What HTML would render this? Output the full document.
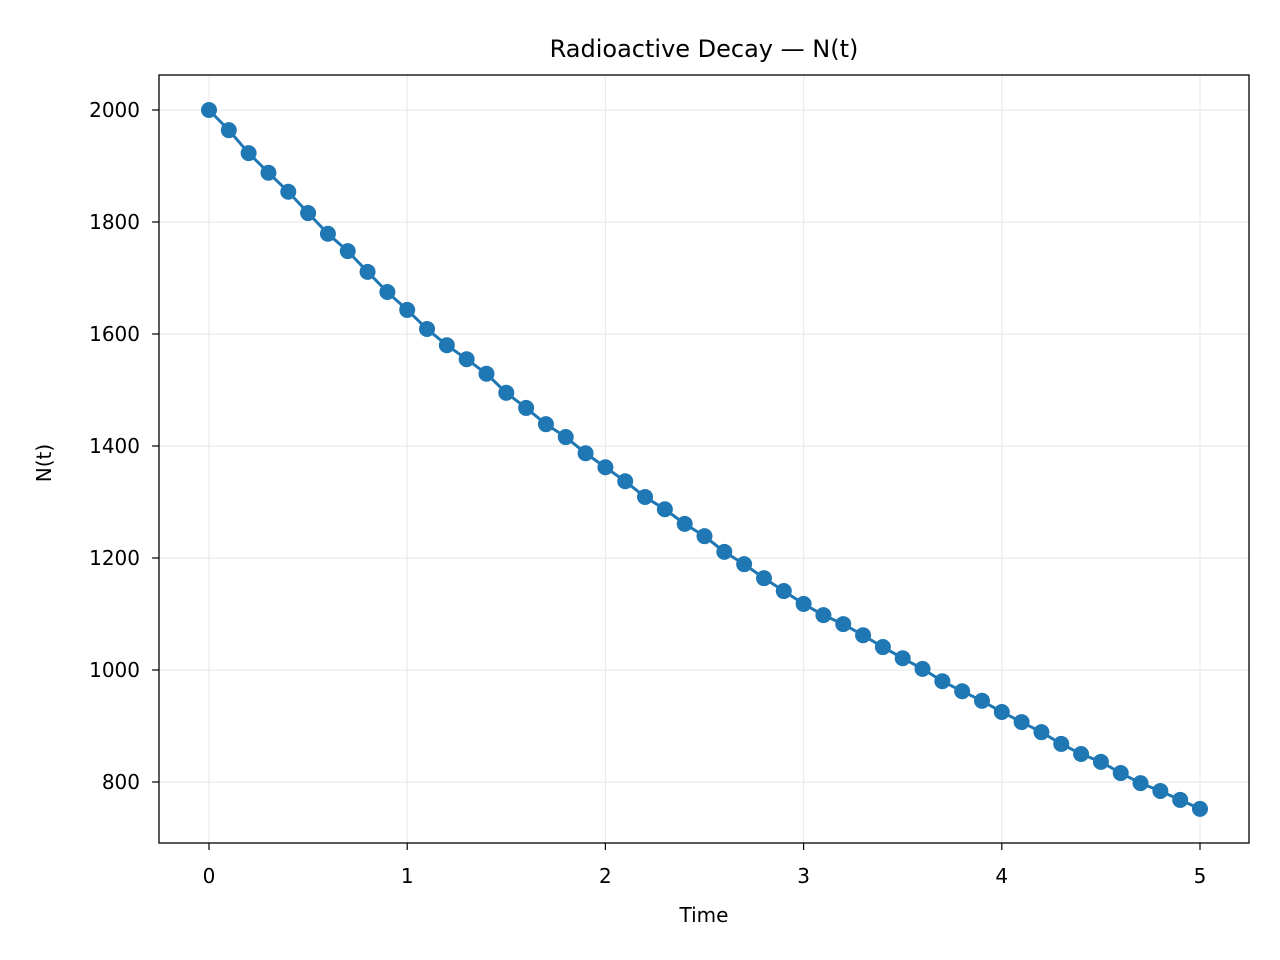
<!DOCTYPE html>
<html><head><meta charset="utf-8"><style>
html,body{margin:0;padding:0;background:#fff;}
svg{display:block;font-family:"DejaVu Sans","Liberation Sans",sans-serif;}
</style></head><body>
<svg id="chart" width="1280" height="960" viewBox="0 0 1280 960" xmlns="http://www.w3.org/2000/svg">
<rect width="1280" height="960" fill="#fff"/>
<g id="grid"></g>
<g id="series"></g>
<rect x="159" y="75" width="1090" height="768" fill="none" stroke="#000" stroke-width="1.3"/>
<g id="ticks" font-size="20" fill="#000"></g>
<text x="704" y="57" font-size="24" text-anchor="middle">Radioactive Decay — N(t)</text>
<text x="704" y="922" font-size="20" text-anchor="middle">Time</text>
<text transform="translate(51,463) rotate(-90)" font-size="20" text-anchor="middle">N(t)</text>
</svg>
<script>
const times = [0,0.1,0.2,0.3,0.4,0.5,0.6,0.7,0.8,0.9,1.0,1.1,1.2,1.3,1.4,1.5,1.6,1.7,1.8,1.9,2.0,2.1,2.2,2.3,2.4,2.5,2.6,2.7,2.8,2.9,3.0,3.1,3.2,3.3,3.4,3.5,3.6,3.7,3.8,3.9,4.0,4.1,4.2,4.3,4.4,4.5,4.6,4.7,4.8,4.9,5.0];
const counts = [2000,1964,1923,1888,1854,1816,1779,1748,1711,1675,1643,1609,1580,1555,1529,1495,1468,1439,1416,1387,1362,1337,1309,1287,1261,1239,1211,1189,1164,1141,1118,1098,1082,1062,1041,1021,1002,980,962,945,925,907,889,868,850,836,816,798,784,768,752];
const xTicks = [0,1,2,3,4,5];
const yTicks = [800,1000,1200,1400,1600,1800,2000];

const NS = "http://www.w3.org/2000/svg";
function xs(v){ return 209 + v * 198.2; }
function ys(v){ return 110 + (2000 - v) * 0.56; }
function mk(tag, attrs, parent){
  const e = document.createElementNS(NS, tag);
  for (const k in attrs) e.setAttribute(k, attrs[k]);
  parent.appendChild(e); return e;
}
const grid = document.getElementById('grid');
const ticks = document.getElementById('ticks');
const series = document.getElementById('series');

xTicks.forEach(t => {
  const x = xs(t);
  const g = mk('line', {x1:x, x2:x, y1:75, y2:843, stroke:'#ebebeb', 'stroke-width':1.2}, grid);
  
  
  const tk = mk('line', {x1:x, x2:x, y1:843, y2:850, stroke:'#000', 'stroke-width':1.2}, ticks);
  
  
  const lb = mk('text', {x:x, y:883, 'text-anchor':'middle'}, ticks);
  lb.textContent = t;
  
  
});
yTicks.forEach(t => {
  const y = ys(t);
  const g = mk('line', {x1:159, x2:1249, y1:y, y2:y, stroke:'#ebebeb', 'stroke-width':1.2}, grid);
  
  
  const tk = mk('line', {x1:152, x2:159, y1:y, y2:y, stroke:'#000', 'stroke-width':1.2}, ticks);
  
  
  const lb = mk('text', {x:140, y:y+7, 'text-anchor':'end'}, ticks);
  lb.textContent = t;
  
  
});
const pts = times.map((t,i) => xs(t) + ',' + ys(counts[i])).join(' ');
const line = mk('polyline', {points:pts, fill:'none', stroke:'#1f77b4', 'stroke-width':3}, series);


times.forEach((t,i) => {
  const c = mk('circle', {cx:xs(t), cy:ys(counts[i]), r:8, fill:'#1f77b4'}, series);
  
  
});
</script>
</body></html>
